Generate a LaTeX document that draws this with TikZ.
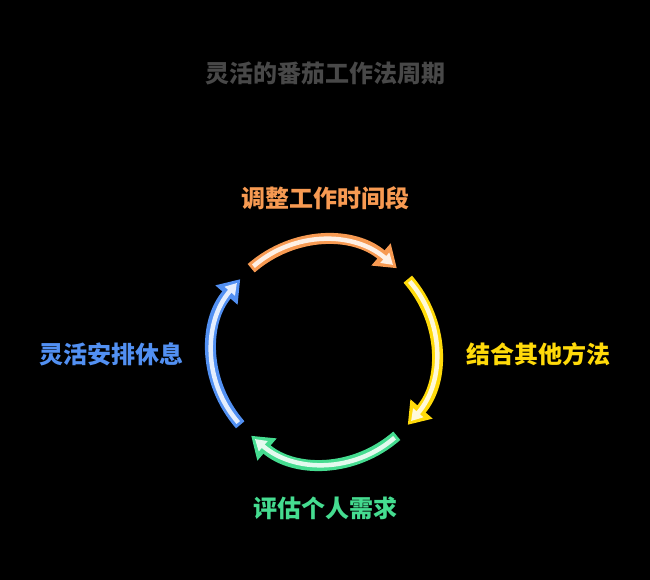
\documentclass[tikz,border=0pt]{standalone}
\usepackage{fontspec}
\newfontfamily\cjk{Noto Sans CJK SC}
\usetikzlibrary{arrows.meta}
\definecolor{c1}{HTML}{F79A52}
\definecolor{c2}{HTML}{FFDA0A}
\definecolor{c3}{HTML}{45DC90}
\definecolor{c4}{HTML}{5290F2}
\definecolor{tg}{HTML}{484848}
\tikzset{lbl/.style={font=\cjk\bfseries\fontsize{24}{29}\selectfont,inner sep=0pt},
ring/.style={line width=11,-{Triangle[length=21,width=28]}},
core/.style={line width=4.5,shorten <=3,shorten >=5,-{Triangle[length=11,width=13]}}}
\begin{document}
\begin{tikzpicture}[x=1pt,y=1pt]
\fill[black] (0,0) rectangle (650,580);
\node (t) at (325,507) [lbl,text=tg] {灵活的番茄工作法周期};
\node (l1) at (325,382) [lbl,text=c1] {调整工作时间段};
\node (l2) at (538,226) [lbl,text=c2] {结合其他方法};
\node (l3) at (325,72) [lbl,text=c3] {评估个人需求};
\node (l4) at (111,226) [lbl,text=c4] {灵活安排休息};
\coordinate (o) at (324,228);
\coordinate (a1) at ([shift={(131:111)}]o);
\coordinate (a2) at ([shift={(49:111)}]o);
\coordinate (a3) at ([shift={(41:111)}]o);
\coordinate (a4) at ([shift={(-41:111)}]o);
\coordinate (a5) at ([shift={(-49:111)}]o);
\coordinate (a6) at ([shift={(-131:111)}]o);
\coordinate (a7) at ([shift={(-139:111)}]o);
\coordinate (a8) at ([shift={(139:111)}]o);
\draw[ring,c1] (a1) to [bend left=41] (a2);
\draw[core,c1!15] (a1) to [bend left=41] (a2);
\draw[ring,c2] (a3) to [bend left=41] (a4);
\draw[core,c2!15] (a3) to [bend left=41] (a4);
\draw[ring,c3] (a5) to [bend left=41] (a6);
\draw[core,c3!15] (a5) to [bend left=41] (a6);
\draw[ring,c4] (a7) to [bend left=41] (a8);
\draw[core,c4!15] (a7) to [bend left=41] (a8);
\end{tikzpicture}
\end{document}
